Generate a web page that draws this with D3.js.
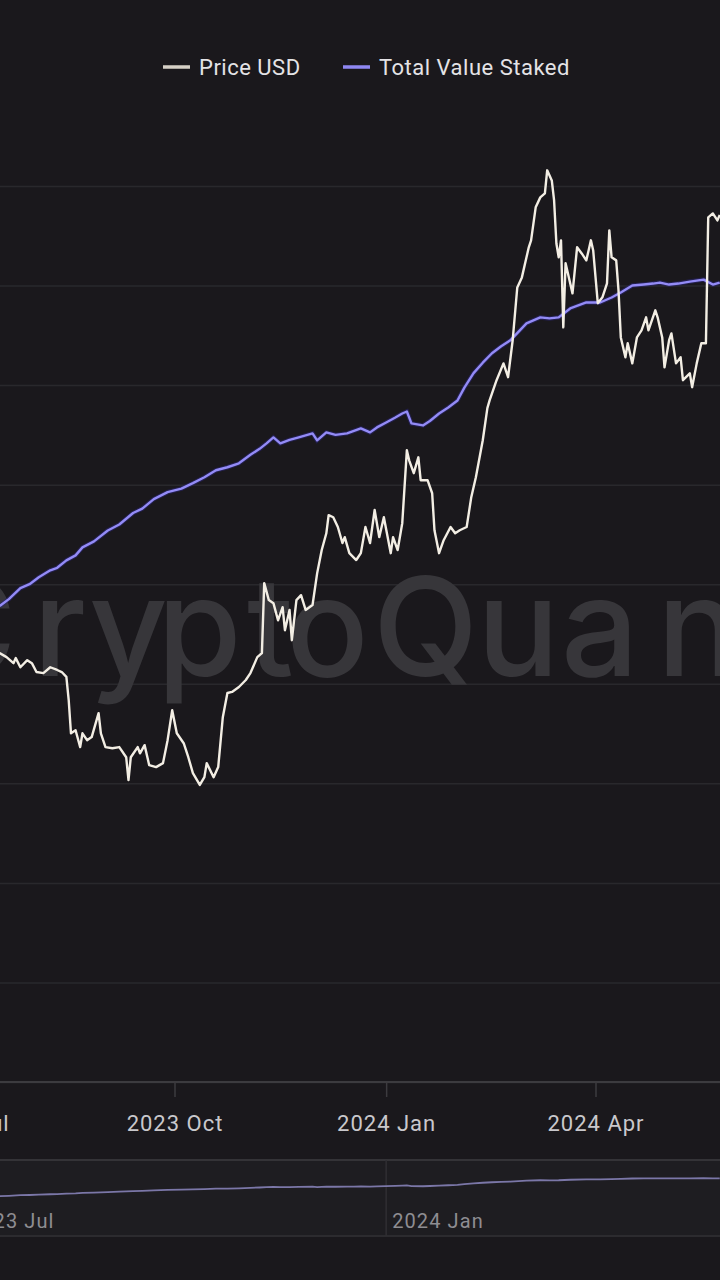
<!DOCTYPE html>
<html><head><meta charset="utf-8">
<script src="https://cdn.jsdelivr.net/npm/d3@7"></script>
<style>html,body{margin:0;padding:0;background:#1a181c;} svg{display:block}</style>
</head><body>
<svg id="chart" width="720" height="1280"></svg>
<script>
// ---------- DATA ----------
const seriesNames = ["Price USD", "Total Value Staked"];

const priceDates = ["2023-07-17","2023-07-20","2023-07-23","2023-07-24","2023-07-26","2023-07-29","2023-07-31","2023-08-02","2023-08-05","2023-08-08","2023-08-11","2023-08-13","2023-08-15","2023-08-16","2023-08-17","2023-08-19","2023-08-21","2023-08-22","2023-08-24","2023-08-26","2023-08-29","2023-08-30","2023-09-01","2023-09-04","2023-09-07","2023-09-10","2023-09-11","2023-09-12","2023-09-15","2023-09-16","2023-09-18","2023-09-20","2023-09-23","2023-09-26","2023-09-28","2023-09-30","2023-10-02","2023-10-05","2023-10-07","2023-10-09","2023-10-12","2023-10-14","2023-10-15","2023-10-18","2023-10-20","2023-10-22","2023-10-24","2023-10-26","2023-10-29","2023-11-01","2023-11-03","2023-11-06","2023-11-08","2023-11-09","2023-11-11","2023-11-13","2023-11-15","2023-11-17","2023-11-18","2023-11-20","2023-11-21","2023-11-23","2023-11-25","2023-11-27","2023-11-30","2023-12-02","2023-12-04","2023-12-06","2023-12-07","2023-12-09","2023-12-11","2023-12-13","2023-12-14","2023-12-16","2023-12-19","2023-12-21","2023-12-23","2023-12-25","2023-12-27","2023-12-29","2023-12-31","2024-01-03","2024-01-04","2024-01-06","2024-01-08","2024-01-10","2024-01-11","2024-01-13","2024-01-15","2024-01-16","2024-01-19","2024-01-21","2024-01-22","2024-01-24","2024-01-26","2024-01-29","2024-01-31","2024-02-02","2024-02-05","2024-02-07","2024-02-09","2024-02-12","2024-02-14","2024-02-15","2024-02-18","2024-02-21","2024-02-23","2024-02-25","2024-02-27","2024-02-29","2024-03-02","2024-03-03","2024-03-04","2024-03-06","2024-03-08","2024-03-10","2024-03-11","2024-03-13","2024-03-14","2024-03-15","2024-03-16","2024-03-17","2024-03-18","2024-03-19","2024-03-20","2024-03-22","2024-03-24","2024-03-26","2024-03-28","2024-03-29","2024-03-30","2024-03-31","2024-04-02","2024-04-04","2024-04-06","2024-04-07","2024-04-08","2024-04-10","2024-04-11","2024-04-12","2024-04-14","2024-04-15","2024-04-17","2024-04-19","2024-04-21","2024-04-23","2024-04-24","2024-04-27","2024-04-28","2024-04-30","2024-05-01","2024-05-03","2024-05-04","2024-05-06","2024-05-08","2024-05-09","2024-05-12","2024-05-13","2024-05-15","2024-05-17","2024-05-19","2024-05-20","2024-05-22","2024-05-24","2024-05-25"];
const priceUSD = [1890,1878,1860,1875,1848,1869,1860,1834,1831,1848,1840,1834,1820,1755,1664,1672,1628,1664,1646,1654,1718,1664,1628,1625,1628,1602,1545,1602,1628,1612,1633,1582,1577,1587,1646,1726,1664,1638,1602,1562,1533,1552,1587,1552,1577,1707,1774,1777,1791,1811,1831,1878,1890,2112,2056,2046,1991,2033,1960,2024,1929,2056,2072,2024,2040,2145,2226,2286,2353,2345,2309,2251,2272,2215,2191,2215,2309,2251,2372,2272,2345,2215,2272,2226,2323,2608,2567,2515,2579,2487,2487,2436,2297,2215,2261,2309,2286,2297,2309,2421,2499,2650,2789,2824,2915,2994,2929,3106,3378,3432,3543,3600,3640,3836,3897,3922,4068,4003,3878,3622,3543,3640,3170,3510,3455,3346,3600,3565,3526,3582,3640,3582,3294,3325,3400,3698,3543,3526,3362,3120,3023,3091,2994,3120,3155,3221,3155,3257,3221,3120,2975,3106,3140,2994,3023,2915,2947,2883,2994,3091,3091,3775,3799,3757,3790];

const stakedDates = ["2023-07-17","2023-07-21","2023-07-26","2023-07-30","2023-08-03","2023-08-08","2023-08-11","2023-08-15","2023-08-19","2023-08-22","2023-08-27","2023-09-02","2023-09-07","2023-09-13","2023-09-17","2023-09-22","2023-09-28","2023-10-04","2023-10-09","2023-10-14","2023-10-19","2023-10-24","2023-10-29","2023-11-03","2023-11-07","2023-11-10","2023-11-13","2023-11-16","2023-11-20","2023-11-24","2023-11-30","2023-12-02","2023-12-06","2023-12-10","2023-12-15","2023-12-18","2023-12-21","2023-12-25","2023-12-28","2024-01-01","2024-01-05","2024-01-08","2024-01-10","2024-01-12","2024-01-17","2024-01-20","2024-01-24","2024-01-28","2024-02-01","2024-02-04","2024-02-08","2024-02-12","2024-02-16","2024-02-20","2024-02-24","2024-03-02","2024-03-08","2024-03-12","2024-03-16","2024-03-21","2024-03-28","2024-04-03","2024-04-08","2024-04-12","2024-04-17","2024-04-22","2024-04-26","2024-04-29","2024-05-03","2024-05-07","2024-05-12","2024-05-18","2024-05-22","2024-05-25"];
// millions of ETH
const stakedValues = [25.56,25.70,25.92,26.00,26.14,26.28,26.33,26.48,26.58,26.74,26.86,27.08,27.20,27.43,27.52,27.71,27.85,27.92,28.03,28.15,28.29,28.35,28.43,28.60,28.72,28.83,28.95,28.83,28.90,28.95,29.03,28.89,29.05,29.00,29.03,29.08,29.13,29.05,29.15,29.25,29.35,29.43,29.47,29.23,29.19,29.28,29.43,29.55,29.69,29.95,30.24,30.45,30.64,30.78,30.90,31.24,31.36,31.34,31.36,31.54,31.66,31.66,31.76,31.86,32.00,32.02,32.04,32.06,32.02,32.04,32.08,32.12,32.02,32.06];

const stakedTicks = [16,18,20,22,24,26,28,30,32,34];
const xTickDates = ["2023-07-01","2023-10-01","2024-01-01","2024-04-01"];
const xTickLabels = ["2023 Jul","2023 Oct","2024 Jan","2024 Apr"];
const navTickDates = ["2023-07-01","2024-01-01"];
const navTickLabels = ["2023 Jul","2024 Jan"];
const watermarkText = "CryptoQuant";

// ---------- CHART ----------
const W = 720, H = 1280;
const plotTop = 186, plotBottom = 1082;
const parse = d3.utcParse("%Y-%m-%d");
const svg = d3.select("#chart");
const FONT = "Roboto, 'Noto Sans', sans-serif";

svg.append("rect").attr("width", W).attr("height", H).attr("fill", "#1a181c");

const x = d3.scaleUtc()
  .domain([parse("2023-10-01"), parse("2024-04-01")])
  .range([174.5, 595.5]);
const yPrice = d3.scaleLog().domain([956.5, 3968]).range([plotBottom, plotTop]);
const yStaked = d3.scaleLinear().domain([16, 34]).range([plotBottom, plotTop]);

// gridlines
const grid = svg.append("g").attr("class", "grid")
  .call(d3.axisLeft(yStaked).tickValues(stakedTicks).tickSize(-W).tickFormat(""));
grid.select(".domain").remove();
grid.selectAll(".tick line").attr("stroke", "#29282c").attr("stroke-width", 1.5);

// watermark (per-glyph placement to mimic the logotype spacing)
svg.append("text")
  .attr("x", "-84 33 89 157 247 286 373 477 561 657 745")
  .attr("y", 676)
  .attr("font-family", "Inter, Roboto, sans-serif")
  .attr("font-size", 137).attr("font-weight", 500)
  .attr("fill", "#37363a")
  .text(watermarkText);

// x axis
const fmt = d3.utcFormat("%Y-%m-%d");
const xAxis = svg.append("g").attr("transform", `translate(0,${plotBottom})`)
  .call(d3.axisBottom(x).tickValues(xTickDates.map(parse))
    .tickSize(15).tickPadding(18)
    .tickFormat(d => xTickLabels[xTickDates.indexOf(fmt(d))]));
xAxis.select(".domain").attr("stroke", "#3c3b3f").attr("stroke-width", 2).attr("d", `M0,0H${W}`);
xAxis.selectAll(".tick line").attr("stroke", "#3c3b3f").attr("stroke-width", 1.5);
xAxis.selectAll(".tick text").attr("fill", "#c9c8cc").attr("font-size", 22)
  .attr("letter-spacing", 1).attr("font-family", FONT);

// lines
const priceData = priceDates.map((d, i) => ({ date: parse(d), v: priceUSD[i] }));
const stakedData = stakedDates.map((d, i) => ({ date: parse(d), v: stakedValues[i] }));

svg.append("path").datum(stakedData)
  .attr("fill", "none").attr("stroke", "#2a2470").attr("stroke-width", 4.5).attr("opacity", 0.6)
  .attr("d", d3.line().x(d => x(d.date)).y(d => yStaked(d.v)));
svg.append("path").datum(stakedData)
  .attr("fill", "none").attr("stroke", "#938bf6").attr("stroke-width", 2.4)
  .attr("stroke-linejoin", "round")
  .attr("d", d3.line().x(d => x(d.date)).y(d => yStaked(d.v)));

svg.append("path").datum(priceData)
  .attr("fill", "none").attr("stroke", "#f3eee4").attr("stroke-width", 2.4)
  .attr("stroke-linejoin", "round")
  .attr("d", d3.line().x(d => x(d.date)).y(d => yPrice(d.v)));

// legend
const legendColors = ["#d6d0c6", "#8f87f2"];
const legendX = [163, 343];
const lg = svg.append("g");
seriesNames.forEach((name, i) => {
  lg.append("line").attr("x1", legendX[i]).attr("x2", legendX[i] + 27)
    .attr("y1", 67).attr("y2", 67).attr("stroke", legendColors[i]).attr("stroke-width", 3.5);
  lg.append("text").attr("x", legendX[i] + 36).attr("y", 67).attr("dy", "0.35em")
    .attr("fill", "#e4e3e6").attr("font-size", 22).attr("letter-spacing", 0.5)
    .attr("font-family", FONT)
    .text(name);
});

// navigator
const navTop = 1160, navBottom = 1236;
const nav = svg.append("g");
nav.append("rect").attr("x", 0).attr("y", navTop).attr("width", W).attr("height", navBottom - navTop)
  .attr("fill", "#1e1d21");
nav.append("line").attr("x1", 0).attr("x2", W).attr("y1", navTop).attr("y2", navTop)
  .attr("stroke", "#343337").attr("stroke-width", 2);
nav.append("line").attr("x1", 0).attr("x2", W).attr("y1", navBottom).attr("y2", navBottom)
  .attr("stroke", "#2c2b2f").attr("stroke-width", 2);
const yNav = d3.scaleLinear().domain([14, 38]).range([1228, 1162]);
navTickDates.forEach((d, i) => {
  const tx = x(parse(d));
  nav.append("line").attr("x1", tx).attr("x2", tx).attr("y1", navTop).attr("y2", navBottom)
    .attr("stroke", "#2f2e33").attr("stroke-width", 1.5);
  nav.append("text").attr("x", tx + 6).attr("y", 1228)
    .attr("fill", "#8e8d92").attr("font-size", 20).attr("letter-spacing", 1.1)
    .attr("font-family", FONT)
    .text(navTickLabels[i]);
});
nav.append("path").datum(stakedData)
  .attr("fill", "none").attr("stroke", "#7b77a8").attr("stroke-width", 1.8)
  .attr("d", d3.line().x(d => x(d.date)).y(d => yNav(d.v)));
</script>
</body></html>
